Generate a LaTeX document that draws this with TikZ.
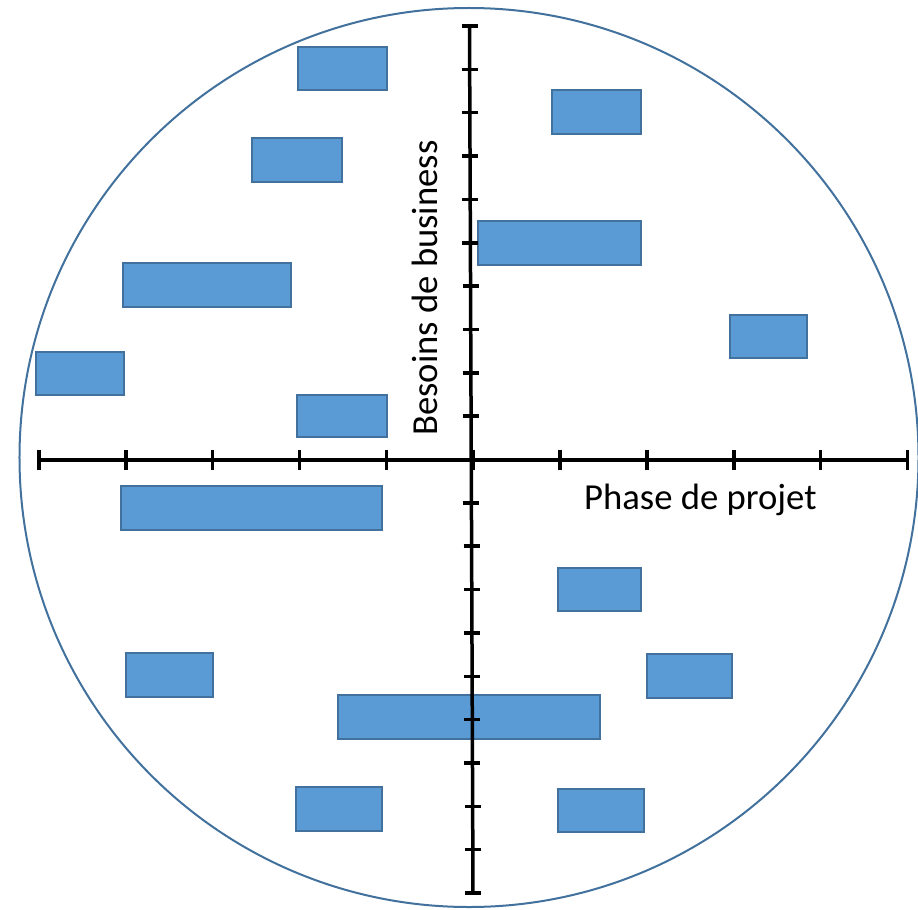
\documentclass[tikz,border=0pt]{standalone}
\usepackage{fontspec}
\setmainfont{Carlito}
\definecolor{bleu}{HTML}{5B9BD5}
\definecolor{bord}{HTML}{41719C}

\begin{document}
\begin{tikzpicture}[x=1bp,y=-1bp,
  bloc/.style={draw=bord,line width=1.6bp,fill=bleu},
  axe/.style={black,line width=3.5bp},
  etiquette/.style={font=\fontsize{36.8}{44}\selectfont,inner sep=0}]
\useasboundingbox (0,0) rectangle (918,910);

\draw[bord,line width=2bp] (469,457.5) circle[radius=449.5bp];

% blocs
\draw[bloc] (298,47) rectangle (387,90);
\draw[bloc] (252,138) rectangle (342,182);
\draw[bloc] (123,263) rectangle (291,307);
\draw[bloc] (36,352) rectangle (124,395);
\draw[bloc] (297,395) rectangle (387,437);
\draw[bloc] (552,90) rectangle (641,134);
\draw[bloc] (478,221) rectangle (641,265);
\draw[bloc] (730,315) rectangle (807,358);
\draw[bloc] (121,486) rectangle (382,530);
\draw[bloc] (558,568) rectangle (641,611);
\draw[bloc] (126,653) rectangle (213,697);
\draw[bloc] (647,654) rectangle (732,698);
\draw[bloc] (338,695) rectangle (600,739);
\draw[bloc] (296,787) rectangle (382,831);
\draw[bloc] (558,789) rectangle (644,832);

% axes
\draw[axe] (38,460) -- (909,460);
\draw[axe] (469.5,26) -- (473,893);
\foreach \i in {0,...,10}
  \draw[axe] (39+86.85*\i,450) -- (39+86.85*\i,470);
\foreach \i in {0,...,20}
  \draw[axe] ({461.5+0.175*\i},{26+43.35*\i})
    -- ({477.5+0.175*\i},{26+43.35*\i});

\node[etiquette,rotate=90,anchor=base west] (besoins) at (437,436) {Besoins de business};
\node[etiquette,anchor=base west] (phase) at (584,509) {Phase de projet};
\end{tikzpicture}
\end{document}
